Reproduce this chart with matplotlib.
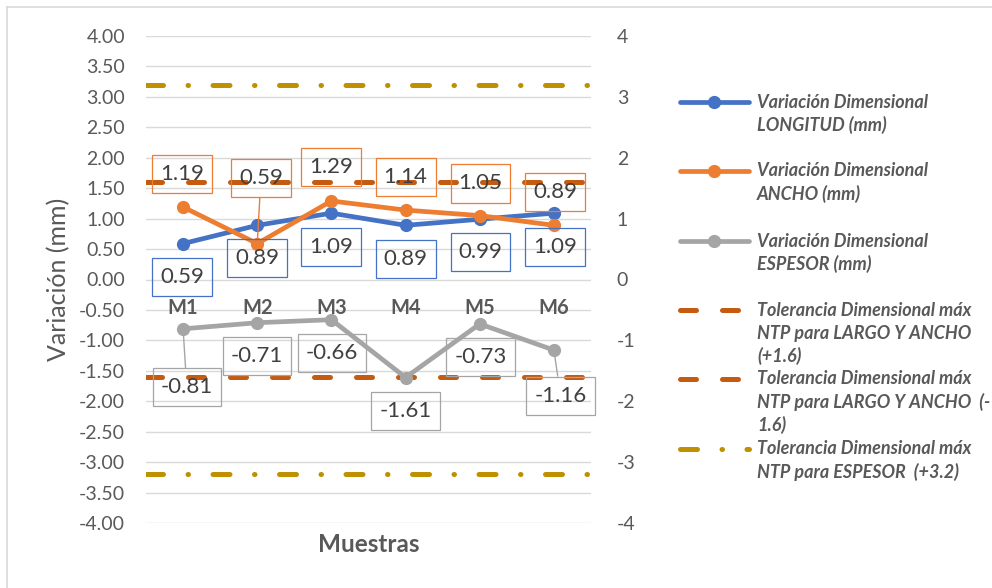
"""Variación dimensional de las muestras M1-M6 frente a las tolerancias NTP.

Tres series (longitud, ancho, espesor) con etiquetas de valor en recuadro,
límites de tolerancia como líneas horizontales y la leyenda a la derecha.
"""
import matplotlib
matplotlib.use("Agg")
import matplotlib.pyplot as plt
from matplotlib.lines import Line2D

plt.rcParams["font.family"] = ["Lato", "DejaVu Sans"]
plt.rcParams["axes.unicode_minus"] = False

MUESTRAS = ["M1", "M2", "M3", "M4", "M5", "M6"]

# valores graficados de cada serie (mm)
LONGITUD = [0.59, 0.89, 1.09, 0.89, 0.99, 1.09]
ANCHO = [1.19, 0.59, 1.29, 1.14, 1.05, 0.89]
ESPESOR = [-0.81, -0.71, -0.66, -1.61, -0.73, -1.16]

# textos de las etiquetas de datos
ETIQ_LONGITUD = ["0.59", "0.89", "1.09", "0.89", "0.99", "1.09"]
ETIQ_ANCHO = ["1.19", "0.59", "1.29", "1.14", "1.05", "0.89"]
ETIQ_ESPESOR = ["-0.81", "-0.71", "-0.66", "-1.61", "-0.73", "-1.16"]

TOL_LARGO_ANCHO = 1.6
TOL_ESPESOR = 3.2

Y_TICKS_IZQ = [-4.0, -3.5, -3.0, -2.5, -2.0, -1.5, -1.0, -0.5,
               0.0, 0.5, 1.0, 1.5, 2.0, 2.5, 3.0, 3.5, 4.0]
Y_TICKS_DER = [-4, -3, -2, -1, 0, 1, 2, 3, 4]

LEYENDA = [
    ["Variación Dimensional", "LONGITUD (mm)"],
    ["Variación Dimensional", "ANCHO (mm)"],
    ["Variación Dimensional", "ESPESOR (mm)"],
    ["Tolerancia Dimensional máx", "NTP para LARGO Y ANCHO", "(+1.6)"],
    ["Tolerancia Dimensional máx", "NTP para LARGO Y ANCHO  (-", "1.6)"],
    ["Tolerancia Dimensional máx", "NTP para ESPESOR  (+3.2)"],
]

# posición (x, y en datos) del centro de cada recuadro de etiqueta
POS_LONGITUD = [(-0.01, 0.04), (1.0, 0.35), (1.99, 0.53),
                (3.0, 0.34), (4.01, 0.45), (5.02, 0.53)]
POS_ANCHO = [(-0.01, 1.73), (1.05, 1.67), (1.99, 1.85),
             (3.0, 1.68), (4.01, 1.58), (5.02, 1.44)]
POS_ESPESOR = [(0.05, -1.77), (1.0, -1.26), (2.01, -1.21),
               (3.0, -2.16), (4.01, -1.27), (5.09, -1.91)]
# etiquetas que llevan línea guía hasta el punto
GUIA_ANCHO = [1]
GUIA_ESPESOR = [0, 5]

AZUL = "#4472C4"
NARANJA = "#ED7D31"
GRIS = "#A5A5A5"
NARANJA_OSC = "#C55A11"
DORADO = "#BF9000"
TEXTO = "#595959"
REJILLA = "#D9D9D9"

W, H = 992, 588
DASH_TOL = (0, (3.2, 5.2))
DASHDOT_ESP = (0, (3.4, 4.9, 0.1, 4.9))


def fx(px):
    return px / W


def fy(py):
    return 1 - py / H


def etiquetas(ax, valores, textos, posiciones, color, guias):
    for i, (v, t, (xt, yt)) in enumerate(zip(valores, textos, posiciones)):
        flecha = None
        if i in guias:
            flecha = dict(arrowstyle="-", color=color, lw=1.0,
                          shrinkA=0, shrinkB=4)
        ax.annotate(t, xy=(i, v), xytext=(xt, yt), textcoords="data",
                    ha="center", va="center", fontsize=16, color="#404040",
                    bbox=dict(boxstyle="square,pad=0.36", fc="none",
                              ec=color, lw=0.9, mutation_aspect=1.15),
                    arrowprops=flecha, zorder=6)


def main():
    fig = plt.figure(figsize=(W / 100, H / 100), dpi=100)
    ax = fig.add_axes([fx(146), fy(523), fx(591) - fx(146), fy(36) - fy(523)])
    x = list(range(len(MUESTRAS)))

    # borde del área del gráfico
    fig.add_artist(Line2D([fx(6.5), fx(6.5)], [0, fy(7)], color="#D9D9D9", lw=1.2))
    fig.add_artist(Line2D([fx(6.5), 1], [fy(7), fy(7)], color="#D9D9D9", lw=1.2))

    ax.set_xlim(-0.5, len(MUESTRAS) - 0.5)
    ax.set_ylim(-4, 4)
    ax.set_yticks(Y_TICKS_IZQ)
    ax.set_yticklabels([f"{t:.2f}" for t in Y_TICKS_IZQ])
    ax.set_xticks([])
    ax.grid(axis="y", color=REJILLA, lw=1.0)
    ax.set_axisbelow(True)
    for s in ax.spines.values():
        s.set_visible(False)
    ax.tick_params(axis="y", length=0, pad=15, labelsize=14, labelcolor=TEXTO)

    ax2 = ax.twinx()
    ax2.set_ylim(-4, 4)
    ax2.set_yticks(Y_TICKS_DER)
    ax2.tick_params(axis="y", length=0, pad=18.5, labelsize=14, labelcolor=TEXTO)
    for s in ax2.spines.values():
        s.set_visible(False)

    # tolerancias
    for yv in (TOL_LARGO_ANCHO, -TOL_LARGO_ANCHO):
        ax.axhline(yv, color=NARANJA_OSC, lw=3.6, ls=DASH_TOL,
                   dash_capstyle="round", zorder=2)
    for yv in (TOL_ESPESOR, -TOL_ESPESOR):
        ax.axhline(yv, color=DORADO, lw=3.6, ls=DASHDOT_ESP,
                   dash_capstyle="round", zorder=2)

    # series
    for serie, color in ((LONGITUD, AZUL), (ANCHO, NARANJA), (ESPESOR, GRIS)):
        ax.plot(x, serie, color=color, lw=3.4, marker="o", ms=8.5,
                solid_capstyle="round", zorder=4)

    etiquetas(ax, LONGITUD, ETIQ_LONGITUD, POS_LONGITUD, AZUL, [])
    etiquetas(ax, ANCHO, ETIQ_ANCHO, POS_ANCHO, NARANJA, GUIA_ANCHO)
    etiquetas(ax, ESPESOR, ETIQ_ESPESOR, POS_ESPESOR, GRIS, GUIA_ESPESOR)

    # etiquetas de categoría junto al eje en y = 0
    for i, m in enumerate(MUESTRAS):
        ax.annotate(m, xy=(i, 0), xytext=(0, -28), textcoords="offset pixels",
                    ha="center", va="center", fontsize=14.5, fontweight="bold",
                    color=TEXTO)

    ax.set_ylabel("Variación (mm)", fontsize=18, color=TEXTO, labelpad=6)
    fig.text(fx(369), fy(545), "Muestras", ha="center", va="center",
             fontsize=17.5, fontweight="bold", color=TEXTO)

    # leyenda a la derecha
    filas = [102, 171, 241, 310, 379, 449]
    estilos = [
        dict(color=AZUL, lw=3.4, marker="o", ms=8.5),
        dict(color=NARANJA, lw=3.4, marker="o", ms=8.5),
        dict(color=GRIS, lw=3.4, marker="o", ms=8.5),
        dict(color=NARANJA_OSC, lw=3.6, ls=DASH_TOL, dash_capstyle="round"),
        dict(color=NARANJA_OSC, lw=3.6, ls=DASH_TOL, dash_capstyle="round"),
        dict(color=DORADO, lw=3.6, ls=DASHDOT_ESP, dash_capstyle="round"),
    ]
    for fila, lineas, est in zip(filas, LEYENDA, estilos):
        marca = est.pop("marker", None)
        ms = est.pop("ms", None)
        fig.add_artist(Line2D([fx(680), fx(749)], [fy(fila), fy(fila)],
                              solid_capstyle="round", **est))
        if marca:
            fig.add_artist(Line2D([fx(714)], [fy(fila)], marker=marca, ms=ms,
                                  color=est["color"], lw=0))
        for k, linea in enumerate(lineas):
            fig.text(fx(757), fy(fila + 23 * k), linea, ha="left", va="center",
                     fontsize=13, fontweight="bold", fontstyle="italic",
                     color=TEXTO)

    fig.savefig("out.png", dpi=100)


if __name__ == "__main__":
    main()
